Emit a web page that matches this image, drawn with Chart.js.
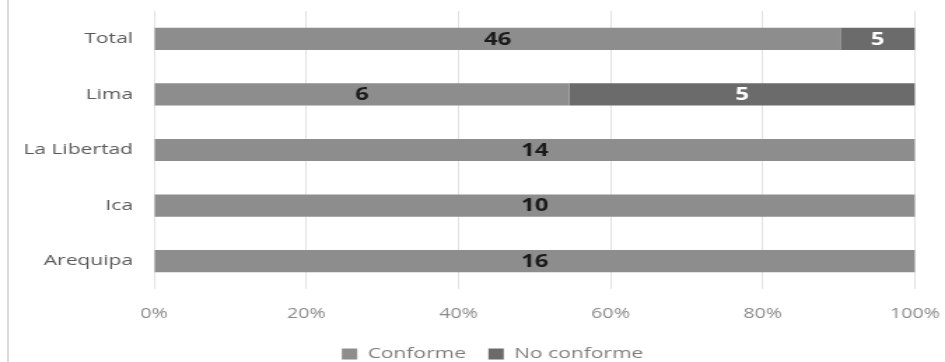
<!DOCTYPE html>
<html>
<head>
<meta charset="utf-8">
<script src="https://cdn.jsdelivr.net/npm/chart.js@4"></script>
<style>
  html, body { margin: 0; padding: 0; background: #fff; }
  #wrap { position: relative; width: 945px; height: 362px; }
  #wrap:before { content: ''; position: absolute; left: 7px; top: 0; bottom: 0; border-left: 2px solid #d9d9d9; }
</style>
</head>
<body>
<div id="wrap"><canvas id="chart" width="675" height="362" style="width:945px;height:362px"></canvas></div>
<script>
const regiones = ['Total', 'Lima', 'La Libertad', 'Ica', 'Arequipa'];
const conforme = [46, 6, 14, 10, 16];
const noConforme = [5, 5, 0, 0, 0];
const xTicks = ['0%', '20%', '40%', '60%', '80%', '100%'];

const FONT = "'Open Sans', sans-serif";

// share of each row, so the bars stack to 100%
const pct = (arr) => arr.map((v, i) => 100 * v / (conforme[i] + noConforme[i]));

// counts written in the middle of each segment
const segmentLabels = {
  id: 'segmentLabels',
  afterDatasetsDraw(chart) {
    const ctx = chart.ctx;
    ctx.save();
    ctx.font = "bold 17px " + FONT;
    ctx.textAlign = 'center';
    ctx.textBaseline = 'middle';
    chart.data.datasets.forEach((ds, di) => {
      const meta = chart.getDatasetMeta(di);
      meta.data.forEach((bar, i) => {
        const n = ds.counts[i];
        if (!n) return;
        const x = (bar.x + bar.base) / 2;
        ctx.fillStyle = ds.labelColor;
        ctx.fillText(n, x, bar.y + 1);
      });
    });
    ctx.restore();
  }
};

// fixed legend height so the row sits low, and nudge it a bit right
const legendPlace = {
  id: 'legendPlace',
  beforeLayout(chart) {
    const lg = chart.legend;
    if (!lg || lg._fixed) return;
    const fit = lg.fit;
    lg.fit = function () {
      fit.call(this);
      this.height = 40;
    };
    lg._fixed = true;
  },
  afterLayout(chart) {
    const lg = chart.legend;
    if (!lg) return;
    lg.left += 25;
    lg.right += 25;
  }
};

// drop the extra room scales reserve for overhanging tick labels
const noScalePad = (s) => {
  s.paddingTop = 0;
  s.paddingBottom = 0;
  s.paddingLeft = 0;
  s.paddingRight = 0;
};

new Chart(document.getElementById('chart'), {
  type: 'bar',
  data: {
    labels: regiones,
    datasets: [
      {
        label: 'Conforme',
        data: pct(conforme),
        counts: conforme,
        backgroundColor: '#8d8d8d',
        labelColor: '#1a1a1a',
        barPercentage: 0.8,
        categoryPercentage: 0.5
      },
      {
        label: 'No conforme',
        data: pct(noConforme),
        counts: noConforme,
        backgroundColor: '#6b6b6b',
        labelColor: '#ffffff',
        barPercentage: 0.8,
        categoryPercentage: 0.5
      }
    ]
  },
  options: {
    indexAxis: 'y',
    responsive: false,
    animation: false,
    layout: { padding: { left: 0, right: 21.4, top: 11, bottom: -8.5 } },
    scales: {
      x: {
        stacked: true,
        min: 0,
        max: 100,
        grid: { color: '#e2e2e2', drawTicks: false },
        border: { display: false },
        ticks: {
          stepSize: 20,
          padding: 17,
          color: '#8a8a8a',
          font: { family: FONT, size: 14 },
          callback: (v, i) => xTicks[i]
        },
        afterFit: (s) => { s.height = 41.5; noScalePad(s); }
      },
      y: {
        stacked: true,
        grid: { display: false },
        border: { display: false },
        ticks: {
          padding: 7,
          color: '#595959',
          font: { family: FONT, size: 15 }
        },
        afterFit: (s) => { s.width = 110; noScalePad(s); }
      }
    },
    plugins: {
      legend: {
        position: 'bottom',
        labels: {
          boxWidth: 11,
          boxHeight: 11,
          padding: 16,
          color: '#7e7e7e',
          font: { family: FONT, size: 15 }
        }
      },
      tooltip: { enabled: false }
    }
  },
  plugins: [segmentLabels, legendPlace]
});
</script>
</body>
</html>
